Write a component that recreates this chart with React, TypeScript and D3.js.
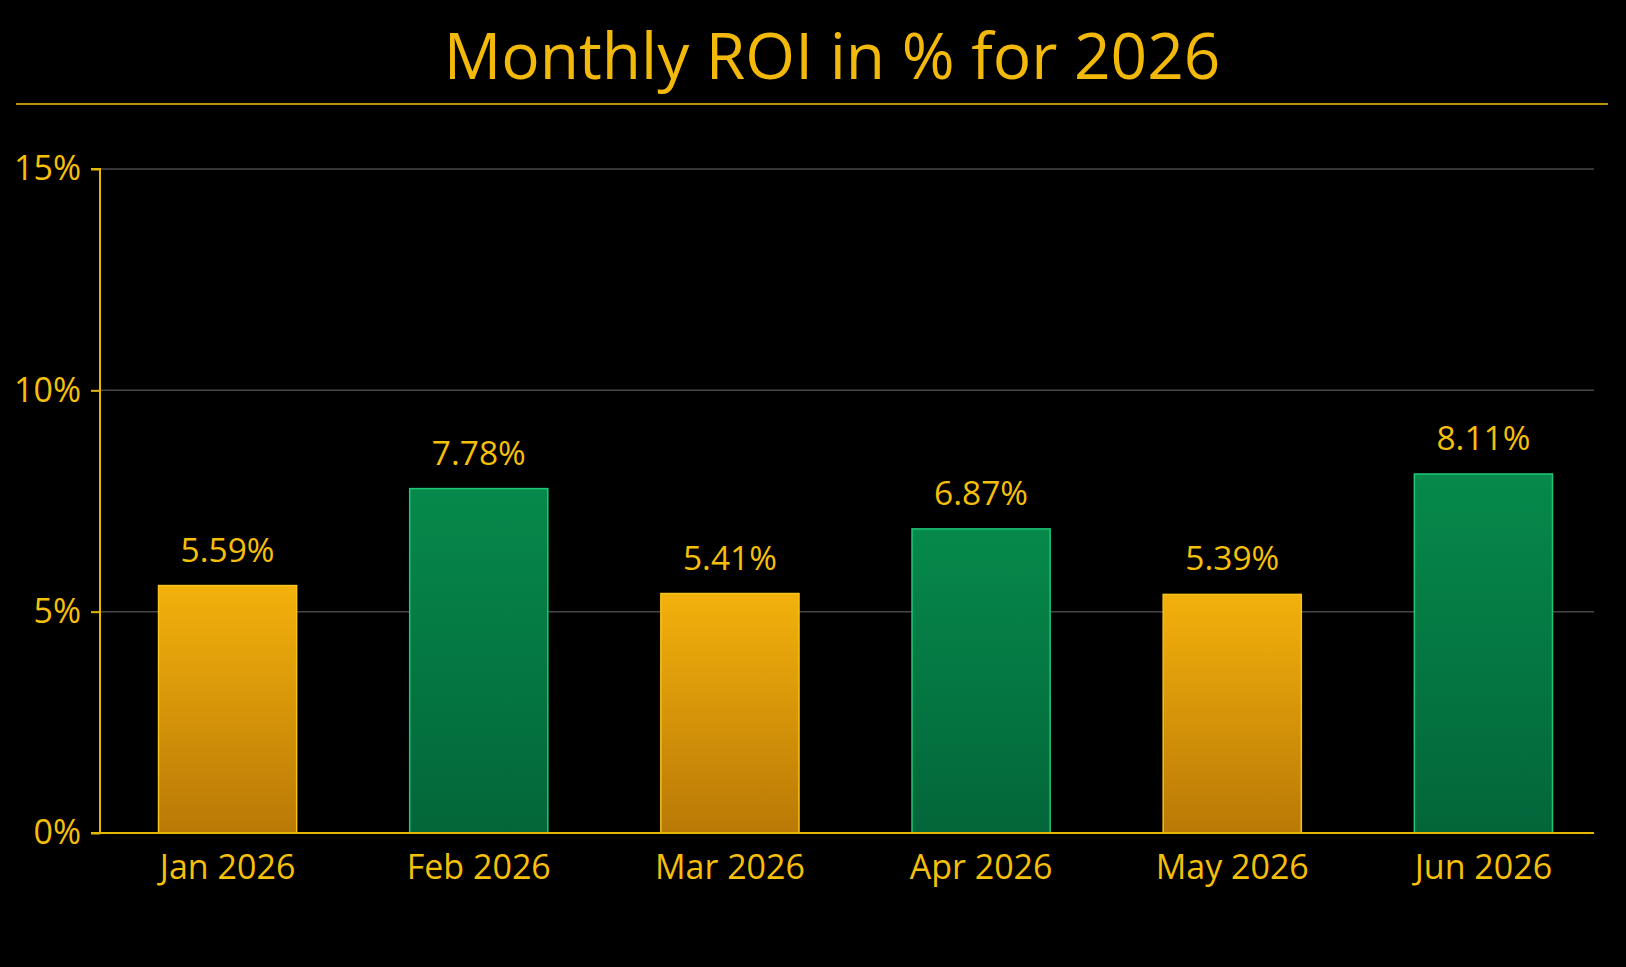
import React, { useRef, useEffect } from 'react';
import * as d3 from 'd3';

const months = ['Jan 2026', 'Feb 2026', 'Mar 2026', 'Apr 2026', 'May 2026', 'Jun 2026'];
const roi = [5.59, 7.78, 5.41, 6.87, 5.39, 8.11];
const barKind = ['gold', 'green', 'gold', 'green', 'gold', 'green'];
const yTicks = [0, 5, 10, 15];

const App = () => {
  const svgRef = useRef(null);

  useEffect(() => {
    document.body.style.margin = '0';
    document.body.style.background = '#000';

    const width = 1626;
    const height = 967;
    const margin = { top: 169, right: 32, bottom: 134, left: 100 };
    const font = '"Open Sans", "Noto Sans", sans-serif';
    const textColor = '#f5bf0a';

    const svg = d3.select(svgRef.current)
      .attr('width', width)
      .attr('height', height)
      .style('display', 'block')
      .style('background', '#000');

    svg.selectAll('*').remove();

    // gradients for the bars
    const defs = svg.append('defs');
    const goldGrad = defs.append('linearGradient')
      .attr('id', 'gold').attr('x1', 0).attr('y1', 0).attr('x2', 0).attr('y2', 1);
    goldGrad.append('stop').attr('offset', '0%').attr('stop-color', '#f3b10c');
    goldGrad.append('stop').attr('offset', '100%').attr('stop-color', '#b97906');
    const greenGrad = defs.append('linearGradient')
      .attr('id', 'green').attr('x1', 0).attr('y1', 0).attr('x2', 0).attr('y2', 1);
    greenGrad.append('stop').attr('offset', '0%').attr('stop-color', '#06894b');
    greenGrad.append('stop').attr('offset', '100%').attr('stop-color', '#03663a');

    // title
    svg.append('text')
      .attr('x', 832)
      .attr('y', 79)
      .attr('text-anchor', 'middle')
      .style('font-family', font)
      .style('font-size', '64px')
      .style('font-weight', 500)
      .style('fill', '#f2b90a')
      .text('Monthly ROI in % for 2026');

    svg.append('line')
      .attr('x1', 16).attr('x2', 1608)
      .attr('y1', 104).attr('y2', 104)
      .attr('stroke', '#b8900c')
      .attr('stroke-width', 2);

    const x = d3.scaleBand()
      .domain(months)
      .range([margin.left + 2, 1609])
      .paddingInner(0.45)
      .paddingOuter(0.225);

    const y = d3.scaleLinear()
      .domain([0, 15])
      .range([height - margin.bottom, margin.top]);

    // gridlines
    svg.append('g')
      .selectAll('line')
      .data(yTicks.filter(d => d > 0))
      .enter()
      .append('line')
      .attr('x1', margin.left)
      .attr('x2', 1594)
      .attr('y1', d => y(d))
      .attr('y2', d => y(d))
      .attr('stroke', '#474747')
      .attr('stroke-width', 1.5);

    // bars
    svg.append('g')
      .selectAll('rect')
      .data(roi)
      .enter()
      .append('rect')
      .attr('x', (d, i) => x(months[i]))
      .attr('y', d => y(d))
      .attr('width', x.bandwidth())
      .attr('height', d => y(0) - y(d))
      .attr('fill', (d, i) => `url(#${barKind[i]})`)
      .attr('stroke', (d, i) => barKind[i] === 'gold' ? '#f7c21a' : '#1fc777')
      .attr('stroke-width', 1.5);

    // value labels
    svg.append('g')
      .selectAll('text')
      .data(roi)
      .enter()
      .append('text')
      .attr('x', (d, i) => x(months[i]) + x.bandwidth() / 2)
      .attr('y', d => y(d) - 24)
      .attr('text-anchor', 'middle')
      .style('font-family', font)
      .style('font-size', '33.5px')
      .style('fill', textColor)
      .text(d => `${d.toFixed(2)}%`);

    // y axis
    const yAxis = svg.append('g')
      .attr('transform', `translate(${margin.left},0)`)
      .call(d3.axisLeft(y).tickValues(yTicks).tickFormat(d => `${d}%`).tickSize(9).tickPadding(10));
    yAxis.select('.domain').attr('stroke', '#e5b800').attr('stroke-width', 2)
      .attr('d', `M-9,${y(15)}H0V${y(0)}`);
    yAxis.selectAll('.tick line').attr('stroke', '#e5b800').attr('stroke-width', 2);
    yAxis.selectAll('.tick text')
      .style('font-family', font)
      .style('font-size', '34px')
      .style('fill', textColor);

    // x axis
    const xAxis = svg.append('g')
      .attr('transform', `translate(0,${y(0)})`)
      .call(d3.axisBottom(x).tickSize(0).tickPadding(22));
    xAxis.select('.domain').attr('stroke', '#e5b800').attr('stroke-width', 2)
      .attr('d', `M${margin.left - 9},0H1594`);
    xAxis.selectAll('.tick text')
      .style('font-family', font)
      .style('font-size', '34px')
      .style('fill', textColor);
  }, []);

  return <svg ref={svgRef}></svg>;
};

export default App;
